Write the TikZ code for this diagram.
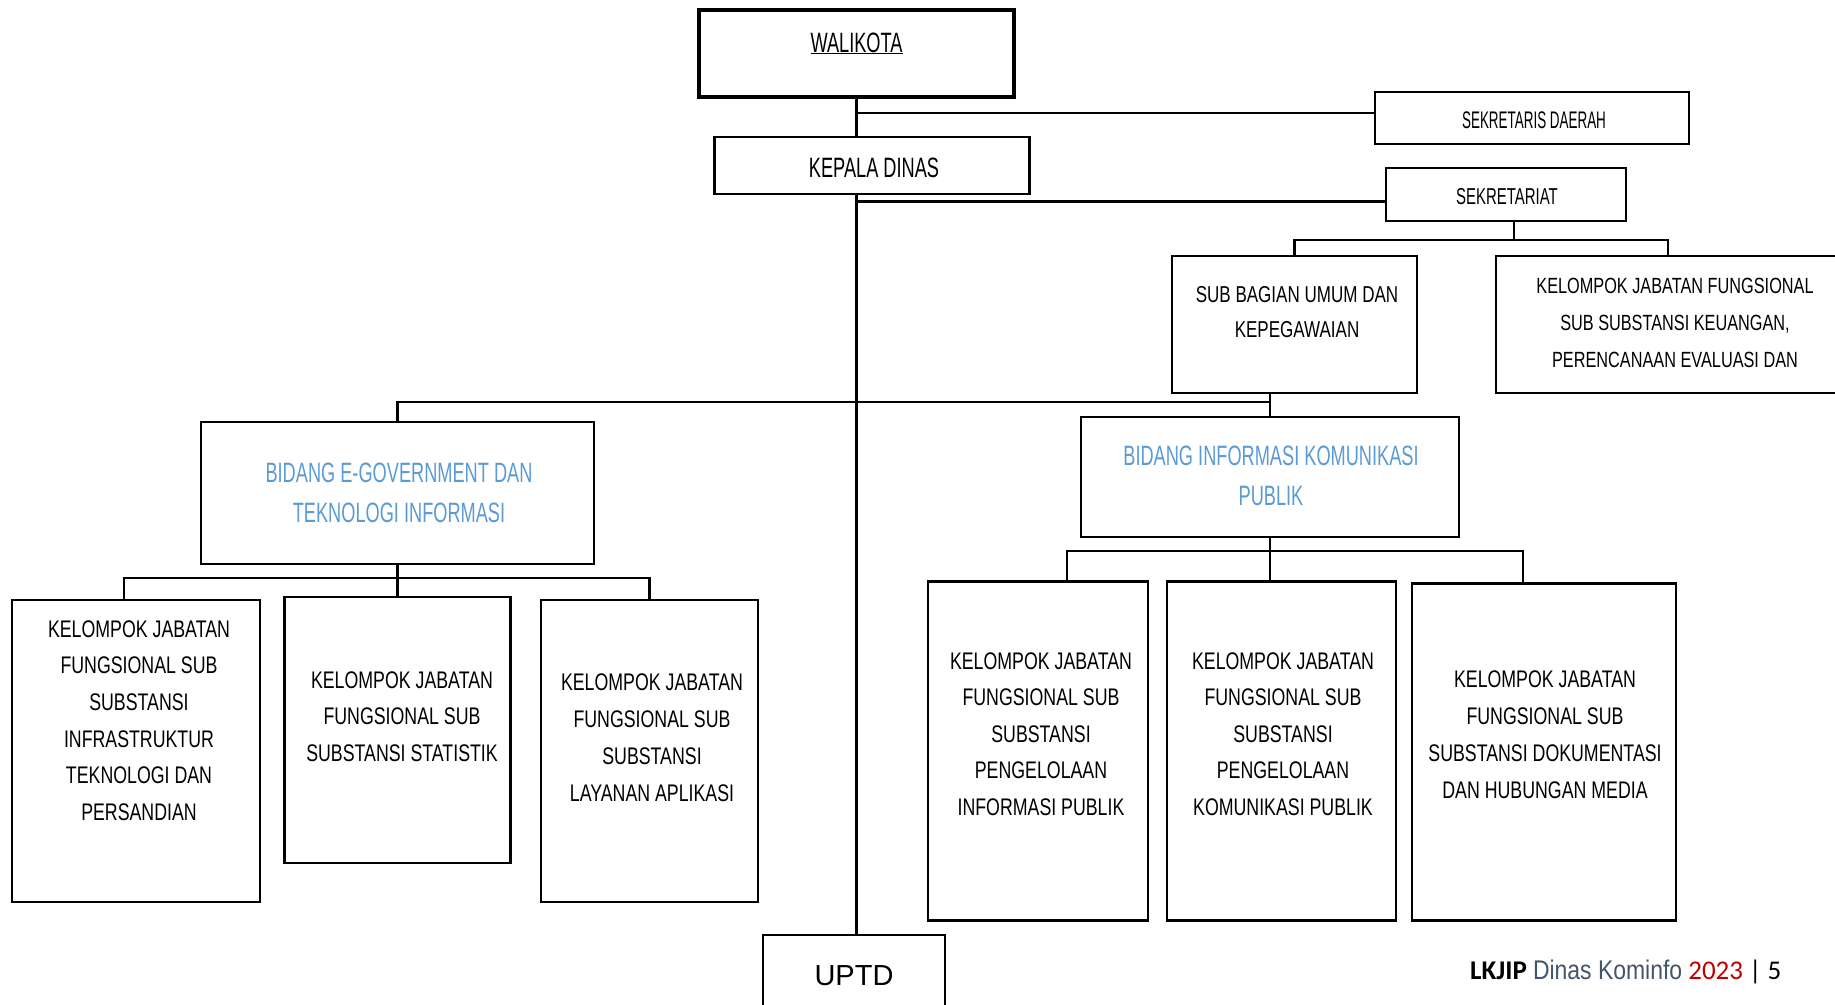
\documentclass[tikz,border=0pt]{standalone}
\usepackage{fontspec}
\usepackage{xcolor}
\usepackage{tikz}
\setmainfont{Liberation Sans}
\newfontfamily\orgfont{Liberation Sans}[FakeStretch=0.74]
\newfontfamily\orgtight{Liberation Sans}[FakeStretch=0.65]
\newfontfamily\orgtighter{Liberation Sans}[FakeStretch=0.56]
\newfontfamily\footnarrow{Liberation Sans}[FakeStretch=0.85]
\newfontfamily\footfont{Carlito}
\definecolor{bidangblue}{HTML}{5B9BD5}
\definecolor{slate}{HTML}{44546A}
\definecolor{darkred}{HTML}{C00000}
\tikzset{
  box/.style={draw,rectangle,line width=2.4pt,inner sep=0pt},
  box text/.style={align=center,anchor=base,inner sep=0pt,font=\orgfont\fontsize{24}{36.7}\selectfont},
  bidang text/.style={align=center,anchor=base,inner sep=0pt,text=bidangblue,font=\orgtight\fontsize{28}{40.5}\selectfont},
  head text/.style={anchor=base,inner sep=0pt,font=\orgtight\fontsize{28}{34}\selectfont}
}
\begin{document}
\begin{tikzpicture}[x=1pt,y=-1pt,line width=2.4pt]

    \useasboundingbox (0,0) rectangle (1835,1004);

    % pimpinan
    \node[box,line width=4.5pt,minimum width=315,minimum height=87] (walikota) at (856.5,53.5) {};
    \node[head text] (walikotatext) at (856.5,52) {\underline{WALIKOTA}};

    \node[box,minimum width=314,minimum height=52] (sekda) at (1532,118) {};
    \node[head text,font=\orgtighter\fontsize{24}{28}\selectfont] (sekdatext) at (1534,128) {SEKRETARIS DAERAH};

    \node[box,minimum width=315,minimum height=57] (kepala) at (872,165.5) {};
    \node[head text] (kepalatext) at (874,177) {KEPALA DINAS};

    \node[box,minimum width=240,minimum height=53] (sekret) at (1506,194.5) {};
    \node[head text,font=\orgtight\fontsize{23}{28}\selectfont] (sekrettext) at (1507,204) {SEKRETARIAT};

    % sekretariat
    \node[box,minimum width=245,minimum height=137] (subbag) at (1294.5,324.5) {};
    \node[box text,font=\orgfont\fontsize{23}{35}\selectfont] (subbagtext) at (1297,337) {SUB BAGIAN UMUM DAN\\KEPEGAWAIAN};

    \node[box,minimum width=344,minimum height=137] (kjfsek) at (1668,324.5) {};
    \node[box text,font=\orgfont\fontsize{22}{37}\selectfont] (kjfsektext) at (1675,367)
        {KELOMPOK JABATAN FUNGSIONAL\\SUB SUBSTANSI KEUANGAN,\\PERENCANAAN EVALUASI DAN};

    % bidang
    \node[box,minimum width=393,minimum height=142] (egov) at (397.5,493) {};
    \node[bidang text] (egovtext) at (399,522.5) {BIDANG E-GOVERNMENT DAN\\TEKNOLOGI INFORMASI};

    \node[box,minimum width=378,minimum height=120] (ikp) at (1270,477) {};
    \node[bidang text,font=\orgtight\fontsize{28}{40}\selectfont] (ikptext) at (1271,505) {BIDANG INFORMASI KOMUNIKASI\\PUBLIK};

    % kelompok jabatan fungsional
    \node[box,minimum width=248,minimum height=302] (kone) at (136,751) {};
    \node[box text] (konetext) at (139,820.5)
        {KELOMPOK JABATAN\\FUNGSIONAL SUB\\SUBSTANSI\\INFRASTRUKTUR\\TEKNOLOGI DAN\\PERSANDIAN};

    \node[box,minimum width=226,minimum height=266] (ktwo) at (397.5,730) {};
    \node[box text] (ktwotext) at (402,761.4) {KELOMPOK JABATAN\\FUNGSIONAL SUB\\SUBSTANSI STATISTIK};

    \node[box,minimum width=217,minimum height=302] (kthree) at (649.5,751) {};
    \node[box text] (kthreetext) at (652,801) {KELOMPOK JABATAN\\FUNGSIONAL SUB\\SUBSTANSI\\LAYANAN APLIKASI};

    \node[box,minimum width=220,minimum height=339] (kfour) at (1038,751) {};
    \node[box text,font=\orgfont\fontsize{24}{36.5}\selectfont] (kfourtext) at (1041,815)
        {KELOMPOK JABATAN\\FUNGSIONAL SUB\\SUBSTANSI\\PENGELOLAAN\\INFORMASI PUBLIK};

    \node[box,minimum width=229,minimum height=339] (kfive) at (1281.5,751) {};
    \node[box text,font=\orgfont\fontsize{24}{36.5}\selectfont] (kfivetext) at (1283,815)
        {KELOMPOK JABATAN\\FUNGSIONAL SUB\\SUBSTANSI\\PENGELOLAAN\\KOMUNIKASI PUBLIK};

    \node[box,minimum width=264,minimum height=337] (ksix) at (1544,752) {};
    \node[box text] (ksixtext) at (1545,798)
        {KELOMPOK JABATAN\\FUNGSIONAL SUB\\SUBSTANSI DOKUMENTASI\\DAN HUBUNGAN MEDIA};

    \node[box,minimum width=182,minimum height=80] (uptd) at (854,975) {};
    \node[anchor=base,inner sep=0pt,font=\fontsize{29}{34}\selectfont] (uptdtext) at (854,985) {UPTD};

    % footer
    \node[anchor=base west,inner sep=0pt,font=\footfont\fontsize{27}{30}\selectfont] (footer) at (1469,979)
        {\textbf{LKJIP} {\footnarrow\color{slate}Dinas Kominfo} \textcolor{darkred}{2023} | 5};

    % garis
    \draw (walikota.south) -- (walikota.south |- kepala.north);
    \draw (walikota.south |- kepala.south) -- (walikota.south |- uptd.north);
    \coordinate (sekin) at ([yshift=5pt]sekda.west);
    \draw (sekin) -- (sekin -| walikota.south);
    \coordinate (setin) at ([yshift=-7pt]sekret.west);
    \draw (setin) -- (setin -| walikota.south);

    \draw ([xshift=8pt]sekret.south) -- ++(0,18) coordinate (setbus);
    \draw (subbag.north) |- (setbus) -| (kjfsek.north);

    \draw (egov.north) -- ++(0,-19) coordinate (bidbus) -| (ikp.north);
    \draw (bidbus -| ikp.north) -- (subbag.south -| ikp.north);

    \draw (egov.south) -- ++(0,13) coordinate (egovbus);
    \draw ([xshift=-12pt]kone.north) |- (egovbus) -| (kthree.north);
    \draw (egovbus) -- (ktwo.north);

    \draw (ikp.south) -- ++(0,13) coordinate (ikpbus);
    \draw ([xshift=29pt]kfour.north) |- (ikpbus) -| ([xshift=-21pt]ksix.north);
    \draw (ikpbus) -- (ikpbus |- kfive.north);

\end{tikzpicture}
\end{document}
